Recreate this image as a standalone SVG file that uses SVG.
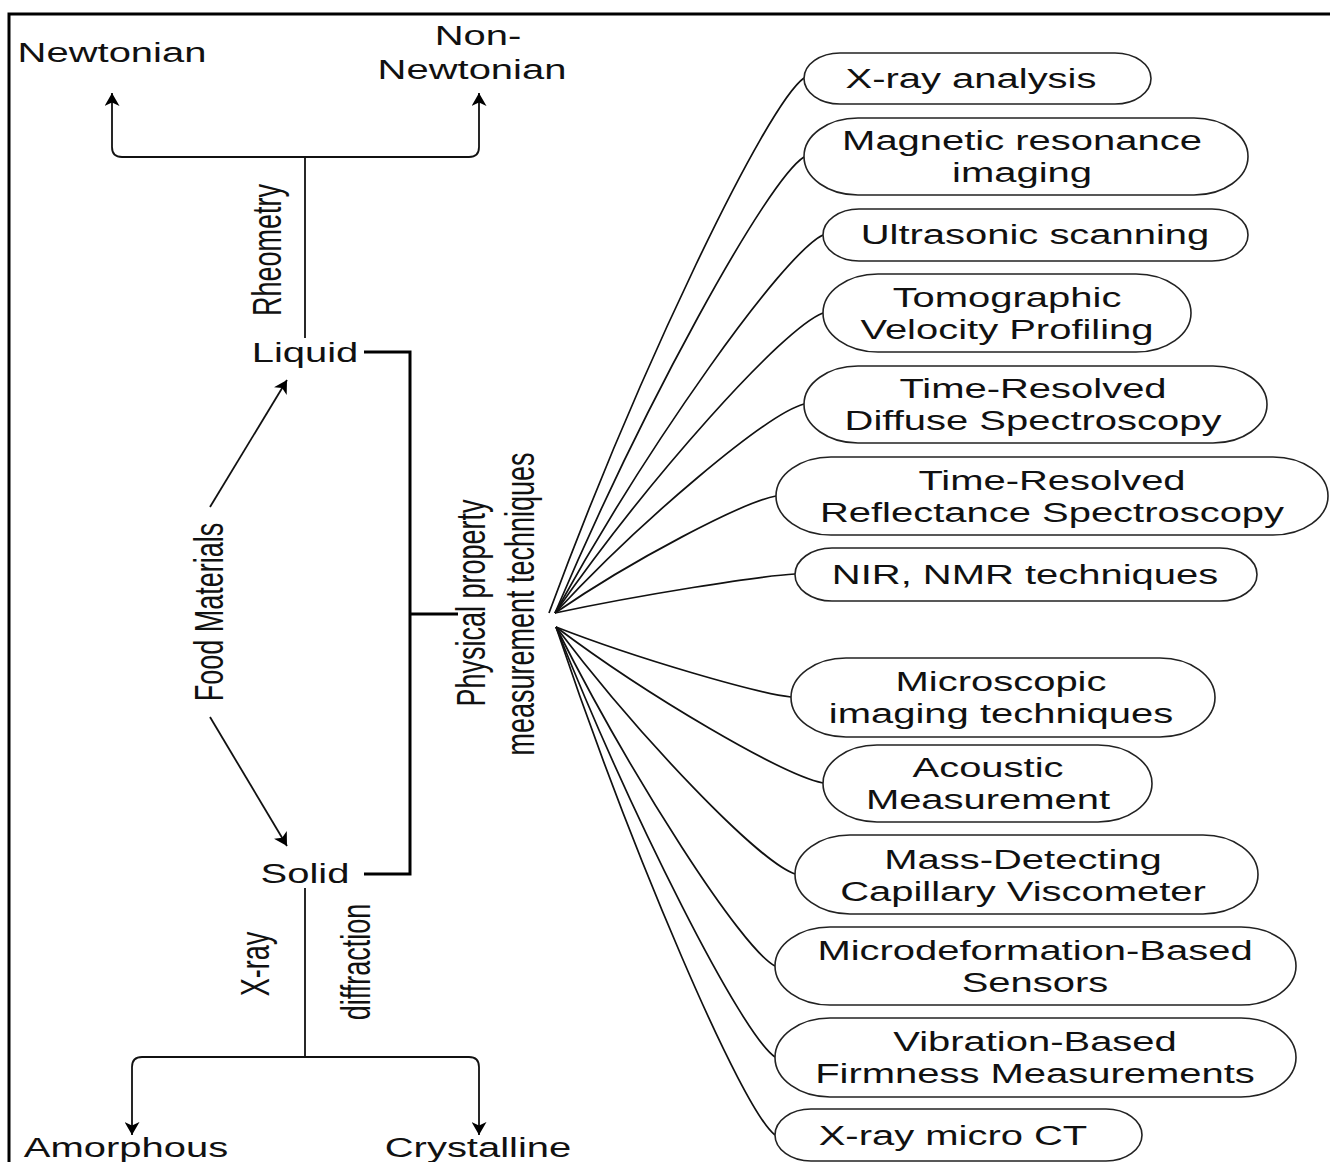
<svg xmlns="http://www.w3.org/2000/svg" width="1330" height="1162" viewBox="0 0 1330 1162">
<style>
  text { font-family: "Liberation Sans", Arial, sans-serif; font-size: 27px; fill: #111; text-anchor: middle; }
  .box { fill: #fff; stroke: #222; stroke-width: 1.6; }
  .conn { fill: none; stroke: #111; stroke-width: 1.8; }
  .fan { fill: none; stroke: #111; stroke-width: 1.7; }
  .thick { fill: none; stroke: #000; stroke-width: 3; }
</style>
<defs>
  <marker id="ah" markerUnits="userSpaceOnUse" markerWidth="14" markerHeight="15" refX="13" refY="7.5" orient="auto">
    <path d="M0,0 L13,7.5 L0,15 L3.5,7.5 z" fill="#000"/>
  </marker>
</defs>
<rect width="1330" height="1162" fill="#fff"/>
<rect x="9" y="14" width="1330" height="1160" fill="none" stroke="#000" stroke-width="3"/>

<g id="connectors">
  <path class="conn" d="M305,338 V157"/>
  <path class="conn" d="M305,157 H122 Q112,157 112,147 V93" marker-end="url(#ah)"/>
  <path class="conn" d="M305,157 H469 Q479,157 479,147 V93" marker-end="url(#ah)"/>
  <path class="conn" d="M305,888 V1057"/>
  <path class="conn" d="M305,1057 H142 Q132,1057 132,1067 V1135" marker-end="url(#ah)"/>
  <path class="conn" d="M305,1057 H469 Q479,1057 479,1067 V1135" marker-end="url(#ah)"/>
  <path class="conn" d="M210,507 L287,380" marker-end="url(#ah)"/>
  <path class="conn" d="M210,717 L287,846" marker-end="url(#ah)"/>
  <path class="thick" d="M364,352 H410 V874 H364"/>
  <path class="thick" d="M410,614 H458"/>
  <g id="fan">
    <path class="fan" d="M549,613 C638,372 766,105 804,78"/>
    <path class="fan" d="M555,613 C642,408 767,180 804,157"/>
    <path class="fan" d="M555,613 C649,443 783,254 823,235"/>
    <path class="fan" d="M555,613 C649,478 783,328 823,313"/>
    <path class="fan" d="M555,613 C642,519 767,414 804,404"/>
    <path class="fan" d="M555,613 C632,560 743,502 776,496"/>
    <path class="fan" d="M555,613 C639,595 759,576 795,574"/>
    <path class="fan" d="M556,627 C638,659 756,693 791,697"/>
    <path class="fan" d="M556,627 C649,697 783,775 823,783"/>
    <path class="fan" d="M556,627 C640,738 759,862 795,874"/>
    <path class="fan" d="M556,627 C633,780 742,949 775,966"/>
    <path class="fan" d="M556,627 C633,820 742,1035 775,1057"/>
    <path class="fan" d="M556,627 C633,856 742,1110 775,1135"/>
  </g>
</g>

<g id="newtonian"><text transform="translate(112,62) scale(1.48,1)">Newtonian</text></g>
<g id="non-newtonian">
  <text transform="translate(478,45) scale(1.48,1)">Non-</text>
  <text transform="translate(472,79) scale(1.48,1)">Newtonian</text>
</g>
<g id="rheometry"><text transform="translate(281,250) scale(1.48,1) rotate(-90)">Rheometry</text></g>
<g id="liquid"><text transform="translate(305,362) scale(1.48,1)">Liquid</text></g>
<g id="food-materials"><text transform="translate(223,612) scale(1.48,1) rotate(-90)">Food Materials</text></g>
<g id="solid"><text transform="translate(305,883) scale(1.48,1)">Solid</text></g>
<g id="physical">
  <text transform="translate(485,603) scale(1.48,1) rotate(-90)">Physical property</text>
  <text transform="translate(534,604) scale(1.48,1) rotate(-90)">measurement techniques</text>
</g>
<g id="xray-diffraction">
  <text transform="translate(269,964) scale(1.48,1) rotate(-90)">X-ray</text>
  <text transform="translate(370,962) scale(1.48,1) rotate(-90)">diffraction</text>
</g>
<g id="amorphous"><text transform="translate(126,1157) scale(1.48,1)">Amorphous</text></g>
<g id="crystalline"><text transform="translate(478,1157) scale(1.48,1)">Crystalline</text></g>

<g id="n1"><rect class="box" x="804" y="53" width="347" height="51" rx="36" ry="25.5"/>
  <text transform="translate(971,88) scale(1.48,1)">X-ray analysis</text></g>
<g id="n2"><rect class="box" x="804" y="118" width="444" height="77" rx="54" ry="38.5"/>
  <text transform="translate(1022,150) scale(1.48,1)"><tspan x="0">Magnetic resonance</tspan><tspan x="0" dy="32">imaging</tspan></text></g>
<g id="n3"><rect class="box" x="823" y="209" width="425" height="52" rx="36" ry="26"/>
  <text transform="translate(1035,244) scale(1.48,1)">Ultrasonic scanning</text></g>
<g id="n4"><rect class="box" x="823" y="274" width="368" height="78" rx="55" ry="39"/>
  <text transform="translate(1007,307) scale(1.48,1)"><tspan x="0">Tomographic</tspan><tspan x="0" dy="32">Velocity Profiling</tspan></text></g>
<g id="n5"><rect class="box" x="804" y="366" width="463" height="77" rx="54" ry="38.5"/>
  <text transform="translate(1033,398) scale(1.48,1)"><tspan x="0">Time-Resolved</tspan><tspan x="0" dy="32">Diffuse Spectroscopy</tspan></text></g>
<g id="n6"><rect class="box" x="776" y="457" width="552" height="78" rx="55" ry="39"/>
  <text transform="translate(1052,490) scale(1.48,1)"><tspan x="0">Time-Resolved</tspan><tspan x="0" dy="32">Reflectance Spectroscopy</tspan></text></g>
<g id="n7"><rect class="box" x="795" y="548" width="462" height="53" rx="37" ry="26.5"/>
  <text transform="translate(1025,584) scale(1.48,1)">NIR, NMR techniques</text></g>
<g id="n8"><rect class="box" x="791" y="658" width="424" height="79" rx="55" ry="39.5"/>
  <text transform="translate(1001,691) scale(1.48,1)"><tspan x="0">Microscopic</tspan><tspan x="0" dy="32">imaging techniques</tspan></text></g>
<g id="n9"><rect class="box" x="823" y="745" width="329" height="77" rx="54" ry="38.5"/>
  <text transform="translate(988,777) scale(1.48,1)"><tspan x="0">Acoustic</tspan><tspan x="0" dy="32">Measurement</tspan></text></g>
<g id="n10"><rect class="box" x="795" y="835" width="463" height="79" rx="55" ry="39.5"/>
  <text transform="translate(1023,869) scale(1.48,1)"><tspan x="0">Mass-Detecting</tspan><tspan x="0" dy="32">Capillary Viscometer</tspan></text></g>
<g id="n11"><rect class="box" x="775" y="927" width="521" height="78" rx="55" ry="39"/>
  <text transform="translate(1035,960) scale(1.48,1)"><tspan x="0">Microdeformation-Based</tspan><tspan x="0" dy="32">Sensors</tspan></text></g>
<g id="n12"><rect class="box" x="775" y="1018" width="521" height="79" rx="55" ry="39.5"/>
  <text transform="translate(1035,1051) scale(1.48,1)"><tspan x="0">Vibration-Based</tspan><tspan x="0" dy="32">Firmness Measurements</tspan></text></g>
<g id="n13"><rect class="box" x="775" y="1109" width="367" height="52" rx="36" ry="26"/>
  <text transform="translate(953,1145) scale(1.48,1)">X-ray micro CT</text></g>
</svg>
